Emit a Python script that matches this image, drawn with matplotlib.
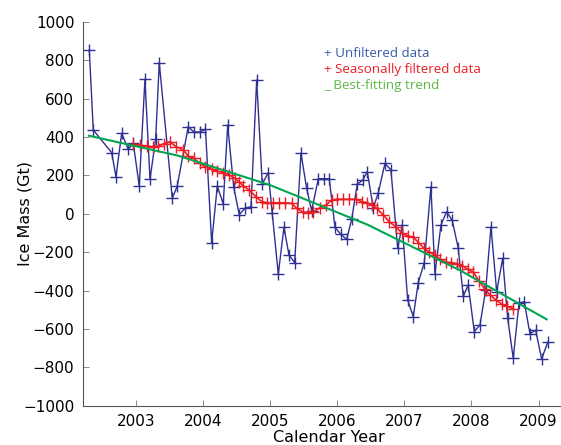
import numpy as np
import matplotlib.pyplot as plt

# Unfiltered monthly ice mass (Gt)
raw_years = [2002.304, 2002.364, 2002.638, 2002.702, 2002.787, 2002.885, 2002.960,
             2003.049, 2003.134, 2003.209, 2003.294, 2003.347, 2003.541, 2003.615,
             2003.779, 2003.864, 2003.954, 2004.036, 2004.128, 2004.212, 2004.301,
             2004.367, 2004.456, 2004.539, 2004.624, 2004.714, 2004.799, 2004.882,
             2004.972, 2005.031, 2005.121, 2005.206, 2005.280, 2005.365, 2005.459,
             2005.544, 2005.618, 2005.717, 2005.802, 2005.881, 2005.966, 2006.051,
             2006.140, 2006.215, 2006.298, 2006.379, 2006.447, 2006.537, 2006.611,
             2006.711, 2006.800, 2006.900, 2006.969, 2007.049, 2007.133, 2007.207,
             2007.297, 2007.396, 2007.456, 2007.545, 2007.630, 2007.714, 2007.803,
             2007.878, 2007.952, 2008.042, 2008.127, 2008.212, 2008.291, 2008.376,
             2008.465, 2008.540, 2008.623, 2008.708, 2008.787, 2008.872, 2008.957,
             2009.046, 2009.136]
raw_mass = [852, 436, 318, 193, 419, 335, 367,
            144, 701, 179, 391, 786, 80, 144,
            453, 425, 425, 440, -151, 144, 51,
            462, 141, -5, 28, 36, 696, 155,
            214, 2, -314, -71, -215, -255, 315,
            132, 16, 182, 182, 182, -71, -106,
            -134, -29, 153, 175, 219, 30, 109,
            262, 228, -180, -59, -449, -536, -359,
            -255, 141, -314, -59, 10, -35, -180,
            -430, -371, -614, -580, -397, -68, -406,
            -233, -545, -753, -467, -458, -626, -606,
            -757, -670]

# Seasonally filtered series
filt_years = [2002.960, 2003.060, 2003.159, 2003.249, 2003.332, 2003.417, 2003.507,
              2003.596, 2003.705, 2003.779, 2003.864, 2003.954, 2004.028, 2004.128,
              2004.203, 2004.301, 2004.390, 2004.475, 2004.539, 2004.599, 2004.689,
              2004.788, 2004.873, 2004.957, 2005.046, 2005.136, 2005.221, 2005.320,
              2005.395, 2005.484, 2005.568, 2005.642, 2005.742, 2005.832, 2005.917,
              2006.000, 2006.089, 2006.179, 2006.279, 2006.364, 2006.447, 2006.517,
              2006.587, 2006.686, 2006.775, 2006.875, 2006.964, 2007.054, 2007.133,
              2007.210, 2007.292, 2007.374, 2007.456, 2007.538, 2007.620, 2007.702,
              2007.784, 2007.866, 2007.948, 2008.030, 2008.112, 2008.194, 2008.276,
              2008.365, 2008.450, 2008.529, 2008.623]
filt_mass = [363, 357, 352, 349, 352, 365, 375,
             349, 332, 300, 288, 262, 245, 231,
             224, 214, 202, 184, 165, 144, 123,
             89, 63, 57, 57, 57, 57, 54,
             28, 10, 5, 10, 31, 45, 71,
             75, 75, 75, 75, 63, 57, 45,
             28, -7, -42, -68, -102, -116, -123,
             -150, -180, -200, -215, -238, -252, -255,
             -260, -272, -290, -305, -350, -390, -423,
             -449, -470, -483, -495]

# Best-fitting trend
trend_years = [2002.30, 2003.62, 2005.00, 2006.45, 2007.83, 2009.12]
trend_mass = [406, 303, 149, -57, -295, -550]

blue = '#2e3192'
red = '#ed1c24'
green = '#00a651'

fig = plt.figure(figsize=(5.61, 4.45), dpi=100)
# axes run a little past the right edge of the picture, as in the original
ax = fig.add_axes([0.1474, 0.0883, 0.878, 0.8629])

ax.plot(raw_years, raw_mass, color=blue, lw=1.0, marker='+', ms=9, mew=1.0)
ax.plot(filt_years, filt_mass, color=red, lw=1.2, marker='+', ms=8, mew=1.0)
ax.plot(trend_years, trend_mass, color=green, lw=1.5)

ax.set_xlim(2002.206, 2009.547)
ax.set_ylim(-1000, 1000)
ax.set_xticks([2003, 2004, 2005, 2006, 2007, 2008, 2009])
ax.set_yticks(np.arange(-1000, 1001, 200))
ax.set_yticklabels(['\u22121000', '\u2212800', '\u2212600', '\u2212400', '\u2212200',
                    '0', '200', '400', '600', '800', '1000'])

for side in ['top', 'right']:
    ax.spines[side].set_visible(False)
for side in ['left', 'bottom']:
    ax.spines[side].set_color('#555555')
    ax.spines[side].set_linewidth(0.8)
ax.tick_params(direction='in', length=4, width=0.6, color='#777777',
               labelsize=11, pad=6)

ax.set_xlabel('Calendar Year', fontsize=11.5, va='center')
ax.xaxis.set_label_coords(0.5, -0.083)
ax.set_ylabel('Ice Mass (Gt)', fontsize=11.5, va='center')
ax.yaxis.set_label_coords(-0.118, 0.5)

# hand-made legend
lx, ly = 0.49, 0.918
ax.text(lx, ly, '+ Unfiltered data', transform=ax.transAxes, color='#3a5aa8',
        fontsize=9.6, family='Open Sans', va='center')
ax.text(lx, ly - 0.042, '+ Seasonally filtered data', transform=ax.transAxes,
        color=red, fontsize=9.6, family='Open Sans', va='center')
ax.text(lx, ly - 0.084, '_ Best-fitting trend', transform=ax.transAxes,
        color='#5cb848', fontsize=9.6, family='Open Sans', va='center')

fig.savefig('out.png', dpi=100)
